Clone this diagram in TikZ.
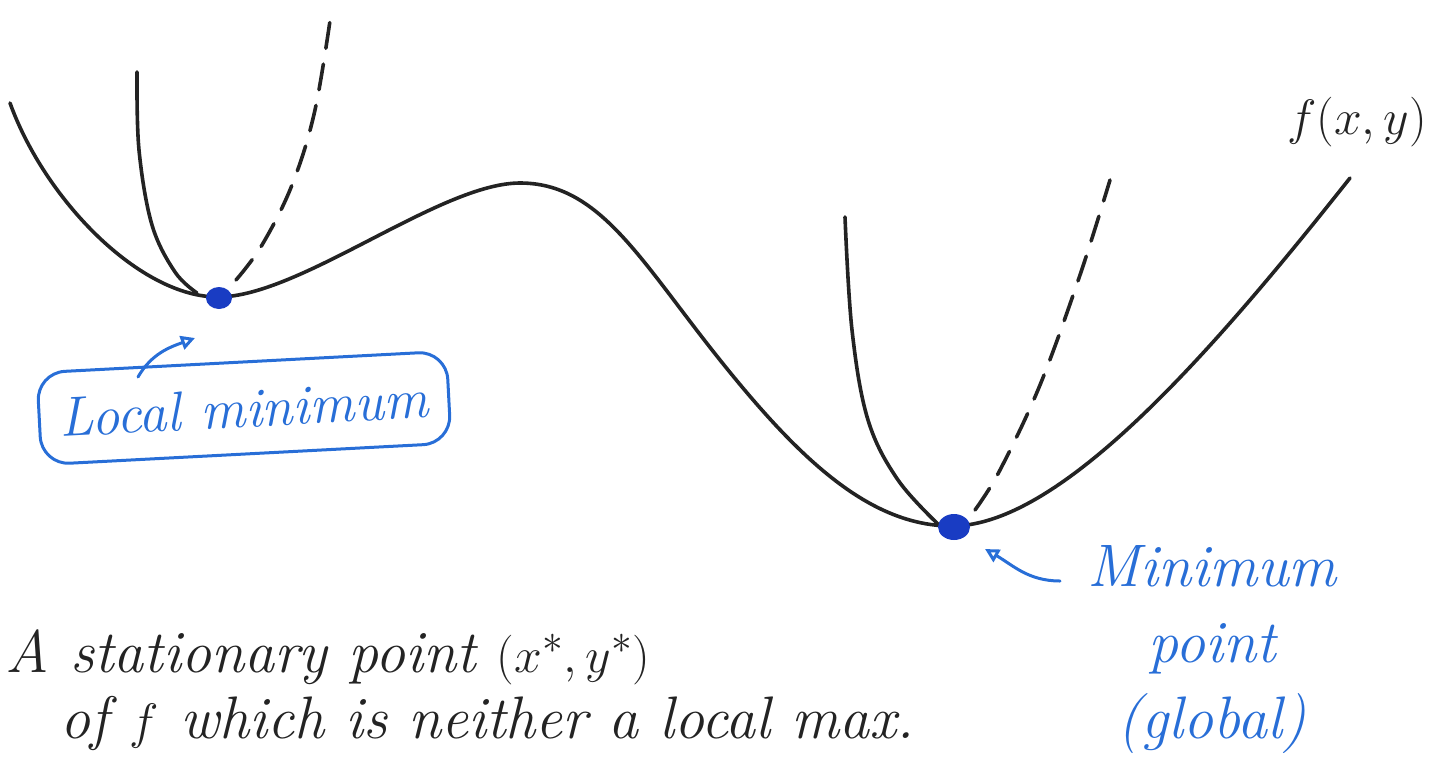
\documentclass[tikz,border=0pt]{standalone}
\usetikzlibrary{arrows.meta,shapes.geometric}
\definecolor{pen}{RGB}{35,35,35}
\definecolor{ink}{RGB}{40,110,215}
\definecolor{dotblue}{RGB}{25,60,195}
\begin{document}
\begin{tikzpicture}[x=0.5pt,y=-0.5pt,
  curve/.style={pen,line width=1.8pt,line cap=round},
  dashcurve/.style={curve,dash pattern=on 13pt off 8pt},
  dotmark/.style={ellipse,fill=dotblue,minimum width=13pt,minimum height=11pt,inner sep=0pt},
  bluetext/.style={ink,font=\fontsize{28}{40}\selectfont\itshape,align=center},
  blacktext/.style={pen,font=\fontsize{30}{34}\selectfont\itshape,inner sep=0pt},
  bluearrow/.style={ink,line width=1.5pt,line cap=round,-{Triangle[open,length=7pt,width=7pt]}}]
\useasboundingbox (0,0) rectangle (1430,756);
\clip (0,0) rectangle (1430,756);
% main function curve
\draw[curve] (10,103) .. controls (45,200) and (140,297) .. (218,297)
  .. controls (300,297) and (440,183) .. (520,183)
  .. controls (600,183) and (640,260) .. (720,360)
  .. controls (800,460) and (870,526) .. (952,526)
  .. controls (1060,526) and (1210,355) .. (1350,178);
% steeper parabolas
\draw[curve] plot[smooth,tension=0.6] coordinates {(137,72) (139,150) (152,225) (175,272) (197,293)};
\draw[dashcurve] plot[smooth,tension=0.6] coordinates {(236,280) (262,245) (292,185) (315,110) (332,7)};
\draw[curve] plot[smooth,tension=0.6] coordinates {(845,217) (852,330) (868,420) (898,480) (940,526)};
\draw[dashcurve] plot[smooth,tension=0.6] coordinates {(975,510) (1000,470) (1040,385) (1080,275) (1110,180)};
% stationary points
\node[dotmark] (lmin) at (219,298) {};
\node[dotmark,minimum width=16pt,minimum height=13pt] (gmin) at (954,527) {};
% labels
\node[bluetext,draw=ink,line width=1.5pt,rounded corners=14pt,rotate=3,minimum width=205pt,minimum height=46pt] (lbox) at (244,408) {Local minimum};
\node[bluetext,font=\fontsize{30}{36}\selectfont\itshape,align=center] (glab) at (1212,650) {Minimum\\[2pt]point\\[2pt](global)};
\node[pen,font=\fontsize{24}{28}\selectfont\itshape] (fxy) at (1357,122) {$f(x,y)$};
\coordinate (la) at (138,377);
\coordinate (lb) at (195,338);
\draw[bluearrow] (la) to[out=60,in=200] (lb);
\coordinate (ga) at (1060,581);
\coordinate (gb) at (985,549);
\draw[bluearrow] (ga) to[out=180,in=-30] (gb);
% bottom text
\node[blacktext,anchor=base west] (t1) at (5,672) {A stationary point $(x^{*},y^{*})$};
\node[blacktext,anchor=base east] (t2) at (915,738) {of $f$ which is neither a local max.};
\end{tikzpicture}
\end{document}
